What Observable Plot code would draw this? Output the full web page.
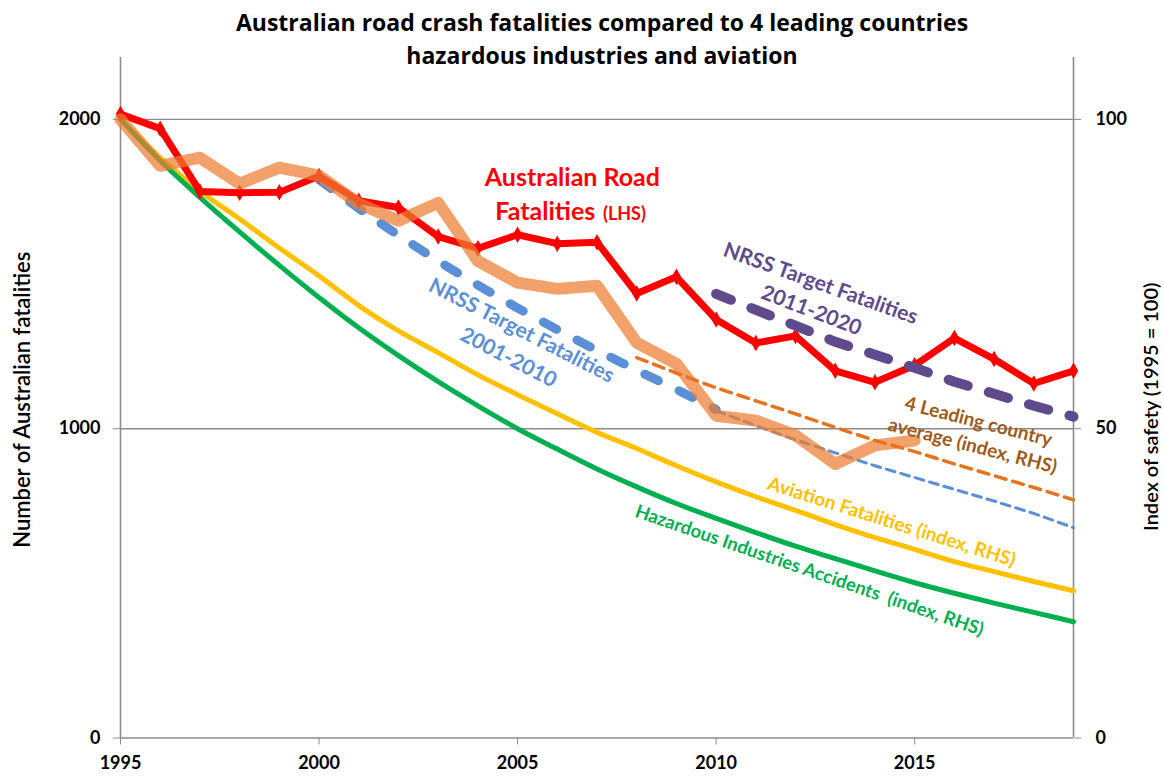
<!DOCTYPE html>
<html><head><meta charset="utf-8">
<script src="https://cdn.jsdelivr.net/npm/d3@7"></script>
<script src="https://cdn.jsdelivr.net/npm/@observablehq/plot@0.6"></script>
<style>
body{margin:0;background:#fff;}
#wrap{position:relative;width:1164px;height:776px;overflow:hidden;}
#chart{position:absolute;left:0;top:0;}
#title{position:absolute;top:6px;left:40px;width:1124px;text-align:center;font-family:"Open Sans",sans-serif;font-weight:bold;font-size:23px;line-height:33px;color:#000;z-index:2;}
</style></head><body>
<div id="wrap">
<div id="chart"></div>
<div id="title">Australian road crash fatalities compared to 4 leading countries<br>hazardous industries and aviation</div>
</div>
<script>
// ---- data ----
const years = [1995,1996,1997,1998,1999,2000,2001,2002,2003,2004,2005,2006,2007,2008,2009,2010,2011,2012,2013,2014,2015,2016,2017,2018,2019];
// Australian road fatalities (LHS, number)
const roadFatalities = [2017,1970,1767,1763,1764,1817,1737,1715,1621,1583,1627,1598,1603,1437,1491,1353,1277,1300,1187,1150,1205,1293,1225,1146,1187];
// 4 leading countries actual (index, RHS) 1995-2015
const leadingYears = [1995,1996,1997,1998,1999,2000,2001,2002,2003,2004,2005,2006,2007,2008,2009,2010,2011,2012,2013,2014,2015];
const leadingIndex = [100,92.5,93.8,89.6,92.2,90.9,86.4,83.6,86.5,77.1,73.6,72.6,73.1,63.9,60.5,52.1,51.3,48.9,44.3,47.3,48.1];
// NRSS target 2001-2010 (LHS)
const nrss1Years = [2000,2001,2002,2003,2004,2005,2006,2007,2008,2009,2010];
const nrss1Values = [1805,1712,1625,1542,1464,1390,1320,1253,1189,1127,1062];
// Continuation of the 2001-2010 target trend (index, RHS)
const nrss1TrendYears = [2010,2011,2012,2013,2014,2015,2016,2017,2018,2019];
const nrss1TrendIndex = [52.9,50.5,48.2,46.1,44.0,42.1,40.2,38.3,36.3,34.0];
// 4 leading country average trend (index, RHS)
const leadingAvgYears = [2008,2009,2010,2011,2012,2013,2014,2015,2016,2017,2018,2019];
const leadingAvgIndex = [61.5,59.0,56.6,54.5,52.4,50.2,48.1,46.3,44.3,42.4,40.5,38.5];
// NRSS target 2011-2020 (LHS)
const nrss2Years = [2010,2011,2012,2013,2014,2015,2016,2017,2018,2019];
const nrss2Values = [1436,1384,1333,1281,1239,1197,1152,1113,1074,1039];
// Aviation fatalities (index, RHS)
const aviationIndex = [100,93.8,88.4,83.9,79.2,74.7,69.9,65.8,62.3,58.7,55.5,52.4,49.4,46.8,44.0,41.4,39.0,36.8,34.5,32.4,30.5,28.5,26.9,25.3,23.8];
// Hazardous industries accidents (index, RHS)
const hazardIndex = [100,93.3,87.4,81.8,76.4,71.2,66.3,61.8,57.6,53.7,50.0,46.7,43.5,40.6,37.9,35.5,33.2,31.0,29.0,27.0,25.1,23.4,21.8,20.3,18.8];
// axis ticks
const xTicks = [1995,2000,2005,2010,2015];
const leftTicks = [0,1000,2000];
const rightTicks = [0,50,100];

// ---- build tables ----
const RATIO = 20; // 100 index = 2000 fatalities
const rows = (ys, vs, k = 1) => ys.map((yr, i) => ({year: yr, value: vs[i] * k}));
const road = rows(years, roadFatalities);
const leading = rows(leadingYears, leadingIndex, RATIO);
const nrss1 = rows(nrss1Years, nrss1Values);
const nrss1Trend = rows(nrss1TrendYears, nrss1TrendIndex, RATIO);
const leadingAvg = rows(leadingAvgYears, leadingAvgIndex, RATIO);
const nrss2 = rows(nrss2Years, nrss2Values);
const aviation = rows(years, aviationIndex, RATIO);
const hazard = rows(years, hazardIndex, RATIO);

const grey = "#8c8c8c";
const label = (text, x, y, opts) => Plot.text([text], {x: () => x, y: () => y, text: d => d, fontWeight: "bold", fontSize: 19, ...opts});

const chart = Plot.plot({
  width: 1164, height: 776,
  marginLeft: 120, marginRight: 91, marginTop: 57, marginBottom: 38.5,
  x: {domain: [1995, 2019]},
  y: {domain: [0, 2200]},
  style: {fontFamily: "Lato, sans-serif", fontSize: "18px", background: "white", color: "black"},
  marks: [
    Plot.ruleY([1000, 2000], {stroke: grey, strokeWidth: 1.4}),
    Plot.ruleY([0], {stroke: grey, strokeWidth: 1.6}),
    Plot.ruleX([1995, 2019], {y1: 0, y2: 2200, stroke: grey, strokeWidth: 1.6}),
    Plot.axisX({ticks: xTicks, tickFormat: d => String(d), tickSize: 7, tickPadding: 11, stroke: grey, fill: "black", fontWeight: "bold", label: null}),
    Plot.axisY({ticks: leftTicks, tickFormat: d => String(d), tickSize: 7, tickPadding: 13, stroke: grey, fill: "black", fontWeight: "bold", label: null}),
    Plot.axisY({anchor: "right", ticks: rightTicks.map(t => t * RATIO), tickFormat: d => String(d / RATIO), tickSize: 7, tickPadding: 15, stroke: grey, fill: "black", fontWeight: "bold", label: null}),
    Plot.text(["Number of Australian fatalities"], {frameAnchor: "left", dx: -98, dy: 2, rotate: -90, textAnchor: "middle", fontSize: 22, fontWeight: 600, fill: "black"}),
    Plot.text(["Index of safety (1995 = 100)"], {frameAnchor: "right", dx: 78, dy: 9, rotate: -90, textAnchor: "middle", fontSize: 20, fontWeight: 600, fill: "black"}),

    Plot.line(aviation, {x: "year", y: "value", stroke: "#FFC000", strokeWidth: 5, curve: "monotone-x"}),
    Plot.line(hazard, {x: "year", y: "value", stroke: "#00B050", strokeWidth: 5, curve: "monotone-x"}),
    Plot.line(nrss1, {x: "year", y: "value", stroke: "#5B8FD6", strokeWidth: 9, strokeDasharray: "15,23", strokeLinecap: "round"}),
    Plot.line(nrss1Trend, {x: "year", y: "value", stroke: "#5B8FD6", strokeWidth: 3, strokeDasharray: "9,6"}),
    Plot.line(road, {x: "year", y: "value", stroke: "#FF0000", strokeWidth: 7, strokeLinejoin: "miter"}),
    Plot.dot(road, {x: "year", y: "value", symbol: "diamond", r: 5, fill: "#FF0000"}),
    Plot.line(leading, {x: "year", y: "value", stroke: "#ED7D31", strokeOpacity: 0.72, strokeWidth: 12, strokeLinejoin: "round"}),
    Plot.line(leadingAvg, {x: "year", y: "value", stroke: "#E8731E", strokeWidth: 3.5, strokeDasharray: "11,7"}),
    Plot.line(nrss2, {x: "year", y: "value", stroke: "#5F4B8B", strokeWidth: 10, strokeDasharray: "20,22", strokeDashoffset: 4, strokeLinecap: "round"}),

    label("Australian Road", 2006.38, 1809, {fill: "#FF0000", fontSize: 25}),
    label("Fatalities", 2004.44, 1699, {fill: "#FF0000", fontSize: 25, textAnchor: "start"}),
    label("(LHS)", 2007.15, 1694, {fill: "#FF0000", fontSize: 18, textAnchor: "start"}),
    label("NRSS Target Fatalities", 2005.10, 1317, {fill: "#5B8FD6", rotate: 27, fontSize: 21}),
    label("2001-2010", 2004.77, 1230, {fill: "#5B8FD6", rotate: 27.5, fontSize: 21}),
    label("NRSS Target Fatalities", 2012.63, 1469, {fill: "#5F4B8B", rotate: 19.7, fontSize: 21}),
    label("2011-2020", 2012.40, 1382, {fill: "#5F4B8B", rotate: 21, fontSize: 21}),
    label("4 Leading country", 2016.61, 1022, {fill: "#9E5B17", rotate: 14.3}),
    label("average (index, RHS)", 2016.46, 944, {fill: "#9E5B17", rotate: 14.5}),
    label("Aviation Fatalities (index, RHS)", 2014.42, 698, {fill: "#FFC000", rotate: 17.5, fontSize: 19}),
    label("Hazardous Industries Accidents  (index, RHS)", 2012.35, 541, {fill: "#00B050", rotate: 19, fontSize: 18.5})
  ]
});
document.getElementById("chart").appendChild(chart);
</script>
</body></html>
